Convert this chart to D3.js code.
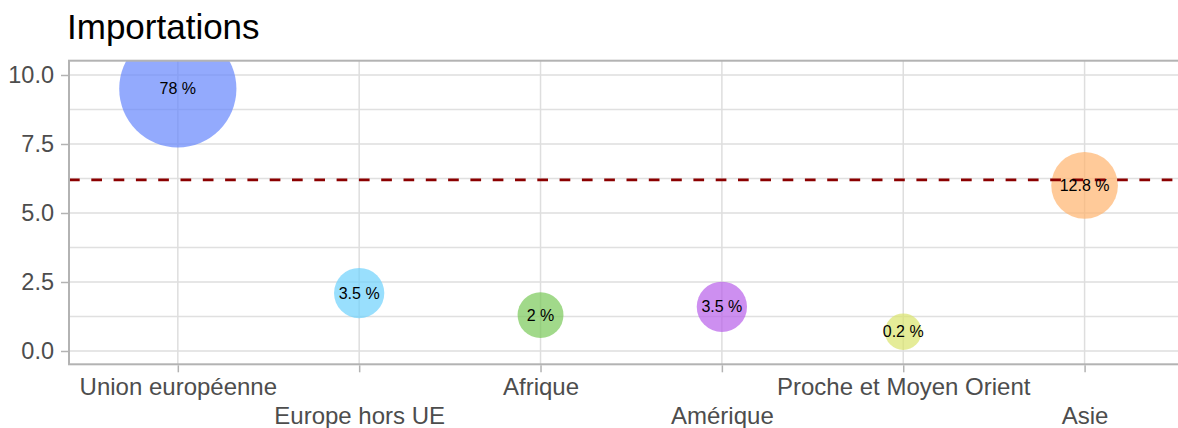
<!DOCTYPE html>
<html>
<head>
<meta charset="utf-8">
<script src="https://cdn.jsdelivr.net/npm/d3@7"></script>
<style>
  html, body { margin: 0; padding: 0; background: #fff; }
  svg { display: block; font-family: "Liberation Sans", Arial, sans-serif; }
</style>
</head>
<body>
<svg id="chart" width="1178" height="428"></svg>
<script>
// ---- data ----
const categories = ["Union européenne", "Europe hors UE", "Afrique", "Amérique", "Proche et Moyen Orient", "Asie"];
const yValues = [9.5, 2.1, 1.3, 1.6, 0.7, 6.0];
const shares = [78, 3.5, 2, 3.5, 0.2, 12.8];
const shareLabels = ["78 %", "3.5 %", "2 %", "3.5 %", "0.2 %", "12.8 %"];
const colors = ["#6586fc", "#6dd1fc", "#79c959", "#b85fea", "#dae46c", "#ffb36d"];
const yTicks = [0, 2.5, 5, 7.5, 10];
const yMinor = [1.25, 3.75, 6.25, 8.75];
const refLine = 6.2;
const title = "Importations";

(function () {
const data = categories.map((c, i) => ({ cat: c, y: yValues[i], share: shares[i], label: shareLabels[i], color: colors[i] }));

// ---- layout ----
const svg = d3.select("#chart");
const pLeft = 69, pRight = 1193.4, pTop = 60.7, pBottom = 364.3;

const x = d3.scalePoint().domain(categories).range([pLeft, pRight]).padding(0.6);
const y = d3.scaleLinear().domain([-0.482, 10.518]).range([pBottom, pTop]);
const r = d3.scaleSqrt().domain([0.2, 78]).range([18.3, 58.6]);

svg.append("defs").append("clipPath").attr("id", "panel")
  .append("rect").attr("x", pLeft).attr("y", pTop).attr("width", pRight - pLeft).attr("height", pBottom - pTop);

const panel = svg.append("g").attr("clip-path", "url(#panel)");

// grid
panel.selectAll(".gminor").data(yMinor).enter().append("line")
  .attr("x1", pLeft).attr("x2", pRight)
  .attr("y1", d => y(d)).attr("y2", d => y(d))
  .attr("stroke", "#e0e0e0").attr("stroke-width", 1.3);
panel.selectAll(".gmajor").data(yTicks).enter().append("line")
  .attr("x1", pLeft).attr("x2", pRight)
  .attr("y1", d => y(d)).attr("y2", d => y(d))
  .attr("stroke", "#dedede").attr("stroke-width", 1.5);
panel.selectAll(".gx").data(categories).enter().append("line")
  .attr("x1", d => x(d)).attr("x2", d => x(d))
  .attr("y1", pTop).attr("y2", pBottom)
  .attr("stroke", "#dedede").attr("stroke-width", 1.5);

// bubbles
panel.selectAll(".bubble").data(data).enter().append("circle")
  .attr("cx", d => x(d.cat)).attr("cy", d => y(d.y)).attr("r", d => r(d.share))
  .attr("fill", d => d.color).attr("fill-opacity", 0.7);

// reference line
panel.append("line")
  .attr("x1", pLeft).attr("x2", pRight)
  .attr("y1", y(refLine)).attr("y2", y(refLine))
  .attr("stroke", "#8b0000").attr("stroke-width", 2.6)
  .attr("stroke-dasharray", "10.7,11.6");

// labels
panel.selectAll(".lbl").data(data).enter().append("text")
  .attr("x", d => x(d.cat)).attr("y", d => y(d.y))
  .attr("dy", "0.35em")
  .attr("text-anchor", "middle")
  .attr("font-size", "16px").attr("fill", "#000")
  .text(d => d.label);

// border
svg.append("rect").attr("x", pLeft).attr("y", pTop).attr("width", pRight - pLeft).attr("height", pBottom - pTop)
  .attr("fill", "none").attr("stroke", "#b3b3b3").attr("stroke-width", 2);

// y axis
const yAxis = d3.axisLeft(y).tickValues(yTicks).tickFormat(d3.format(".1f")).tickSize(7).tickPadding(7);
const gy = svg.append("g").attr("transform", `translate(${pLeft - 1},0)`).call(yAxis);
gy.select(".domain").remove();
gy.selectAll(".tick line").attr("stroke", "#b3b3b3").attr("stroke-width", 1.5);
gy.selectAll(".tick text").attr("font-size", "23.5px").attr("fill", "#4d4d4d")
  .attr("font-family", "Liberation Sans, Arial, sans-serif");

// x axis
const xAxis = d3.axisBottom(x).tickSize(7).tickPadding(6);
const gx = svg.append("g").attr("transform", `translate(0,${pBottom + 1})`).call(xAxis);
gx.select(".domain").remove();
gx.selectAll(".tick line").attr("stroke", "#b3b3b3").attr("stroke-width", 1.5);
gx.selectAll(".tick text").attr("font-size", "24px").attr("fill", "#4d4d4d")
  .attr("font-family", "Liberation Sans, Arial, sans-serif")
  .attr("dy", null)
  .attr("y", (d, i) => i % 2 === 0 ? 30 : 59);

// title
svg.append("text").attr("x", 67).attr("y", 39)
  .attr("font-size", "35px").attr("fill", "#000").text(title);
})();
</script>
</body>
</html>
